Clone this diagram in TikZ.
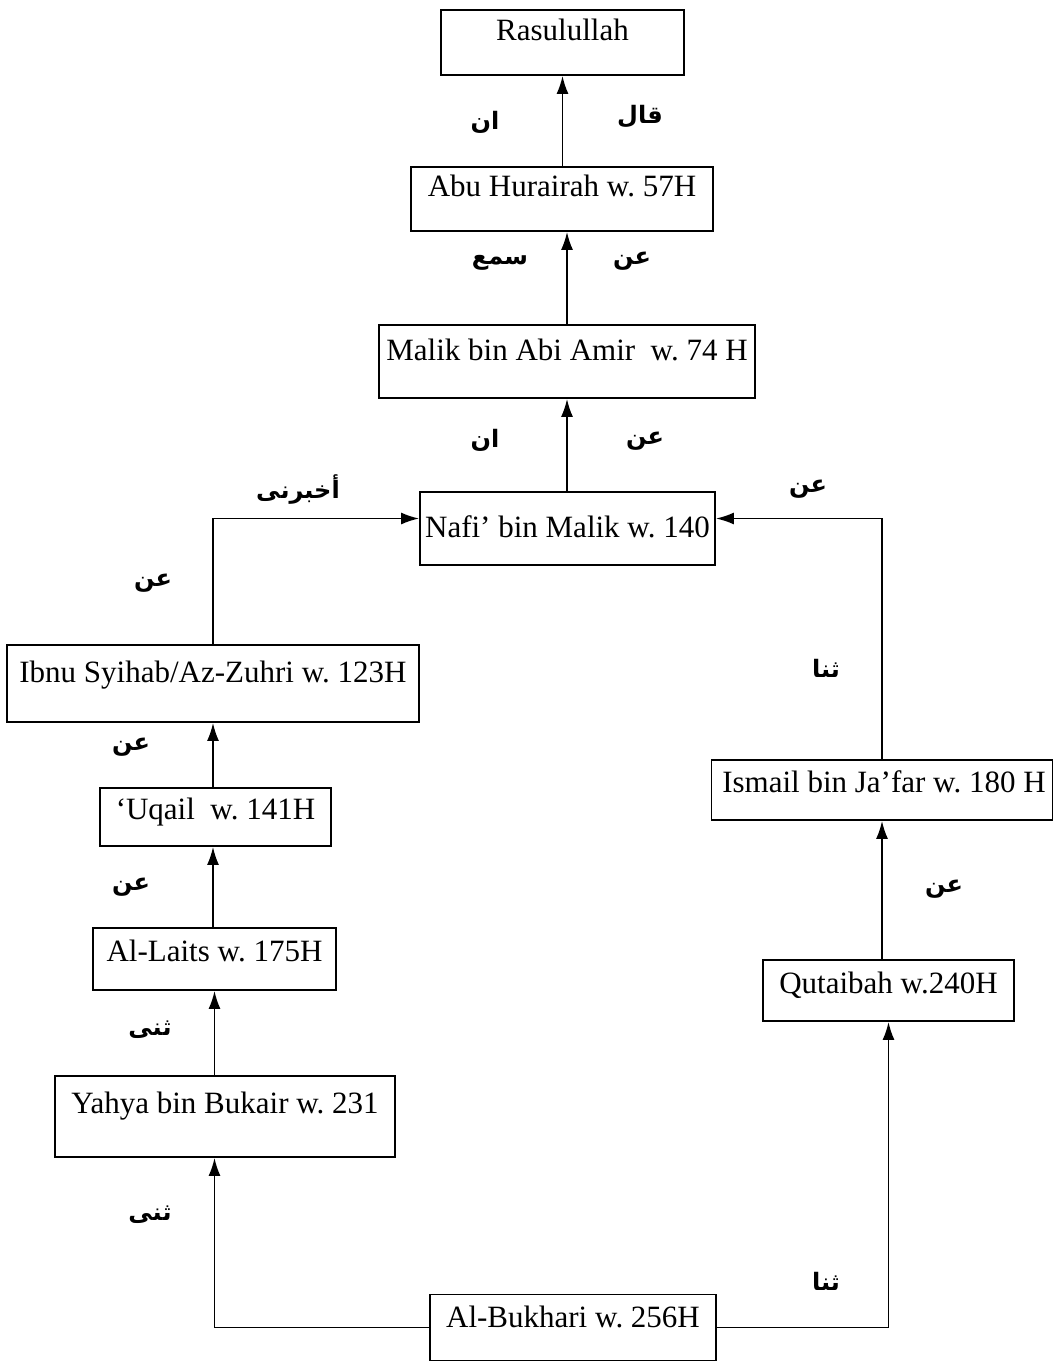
\documentclass[tikz,border=0pt]{standalone}
\usepackage{fontspec}
\setmainfont{Liberation Serif}
\newfontfamily\arabicfont[Script=Arabic]{DejaVu Sans}
\TeXXeTstate=1
\frenchspacing
\usetikzlibrary{arrows.meta}
\newcommand{\ar}[1]{{\arabicfont\bfseries\beginR #1\endR}}
\begin{document}
\begin{tikzpicture}[x=1pt,y=-1pt,
  box/.style={draw, line width=1.8pt, inner sep=0pt},
  lbl/.style={anchor=base, inner sep=0pt, font=\fontsize{31}{36}\selectfont},
  al/.style={inner sep=0pt, font=\fontsize{24}{28}\selectfont},
  arr/.style={line width=1.8pt, -{Latex[length=18pt,width=12pt]}}]
\useasboundingbox (0,0) rectangle (1054,1362);
% boxes
\node[box, minimum width=243pt, minimum height=65pt] (rasul) at (562.5,42.5) {};
\node[box, minimum width=302pt, minimum height=64pt] (abu) at (562,199) {};
\node[box, minimum width=376pt, minimum height=73pt] (malik) at (567,361.5) {};
\node[box, minimum width=295pt, minimum height=73pt] (nafi) at (567.5,528.5) {};
\node[box, minimum width=412pt, minimum height=77pt] (ibnu) at (213,683.5) {};
\node[box, minimum width=231pt, minimum height=58pt] (uqail) at (215.5,817) {};
\node[box, minimum width=243pt, minimum height=62pt] (laits) at (214.5,959) {};
\node[box, minimum width=340pt, minimum height=81pt] (yahya) at (225,1116.5) {};
\node[box, minimum width=286pt, minimum height=66pt] (bukh) at (573,1327.5) {};
\node[box, minimum width=341pt, minimum height=60pt] (ismail) at (882,790) {};
\node[box, minimum width=251pt, minimum height=61pt] (qut) at (888.5,990.5) {};
% texts
\node[lbl] (trasul) at (562.5,41) {Rasulullah};
\node[lbl] (tabu) at (562,196) {Abu Hurairah w. 57H};
\node[lbl] (tmalik) at (567,360) {Malik bin Abi Amir\ \ w. 74 H};
\node[lbl] (tnafi) at (567.5,537) {Nafi’ bin Malik w. 140};
\node[lbl] (tibnu) at (213,682) {Ibnu Syihab/Az-Zuhri w. 123H};
\node[lbl] (tuqail) at (215.5,819) {‘Uqail\ \ w. 141H};
\node[lbl] (tlaits) at (214.5,961) {Al-Laits w. 175H};
\node[lbl] (tyahya) at (225,1113) {Yahya bin Bukair w. 231};
\node[lbl] (tbukh) at (573,1327) {Al-Bukhari w. 256H};
\node[lbl] (tismail) at (884,792) {Ismail bin Ja’far w. 180 H};
\node[lbl] (tqut) at (888.5,993) {Qutaibah w.240H};
% connectors
\draw[arr] (abu.north -| rasul.south) -- (rasul.south);
\draw[arr] (malik.north) -- (malik.north |- abu.south);
\draw[arr] (nafi.north -| malik.south) -- (malik.south);
\draw[arr] (ibnu.north) |- ([yshift=10pt]nafi.west);
\draw[arr] (ismail.north) |- ([yshift=10pt]nafi.east);
\draw[arr] (uqail.north -| ibnu.south) -- (ibnu.south);
\draw[arr] (laits.north -| ibnu.south) -- (ibnu.south |- uqail.south);
\draw[arr] (yahya.north -| laits.south) -- (laits.south);
\draw[arr] (bukh.west) -| (yahya.south -| laits.south);
\draw[arr] (bukh.east) -| (qut.south);
\draw[arr] (qut.north -| ismail.south) -- (ismail.south);
% arabic labels
\node[al] (a1) at (485,122) {\ar{ان}};
\node[al] (a2) at (640,117) {\ar{قال}};
\node[al] (a3) at (500,263) {\ar{سمع}};
\node[al] (a4) at (632,261) {\ar{عن}};
\node[al] (a5) at (485,440) {\ar{ان}};
\node[al] (a6) at (645,441) {\ar{عن}};
\node[al] (a7) at (298,490) {\ar{أخبرنى}};
\node[al] (a8) at (808,489) {\ar{عن}};
\node[al] (a9) at (153,583) {\ar{عن}};
\node[al] (a10) at (826,668) {\ar{ثنا}};
\node[al] (a11) at (131,747) {\ar{عن}};
\node[al] (a12) at (131,887) {\ar{عن}};
\node[al] (a13) at (944,889) {\ar{عن}};
\node[al] (a14) at (150,1030) {\ar{ثنى}};
\node[al] (a15) at (150,1215) {\ar{ثنى}};
\node[al] (a16) at (826,1281) {\ar{ثنا}};
\end{tikzpicture}
\end{document}
